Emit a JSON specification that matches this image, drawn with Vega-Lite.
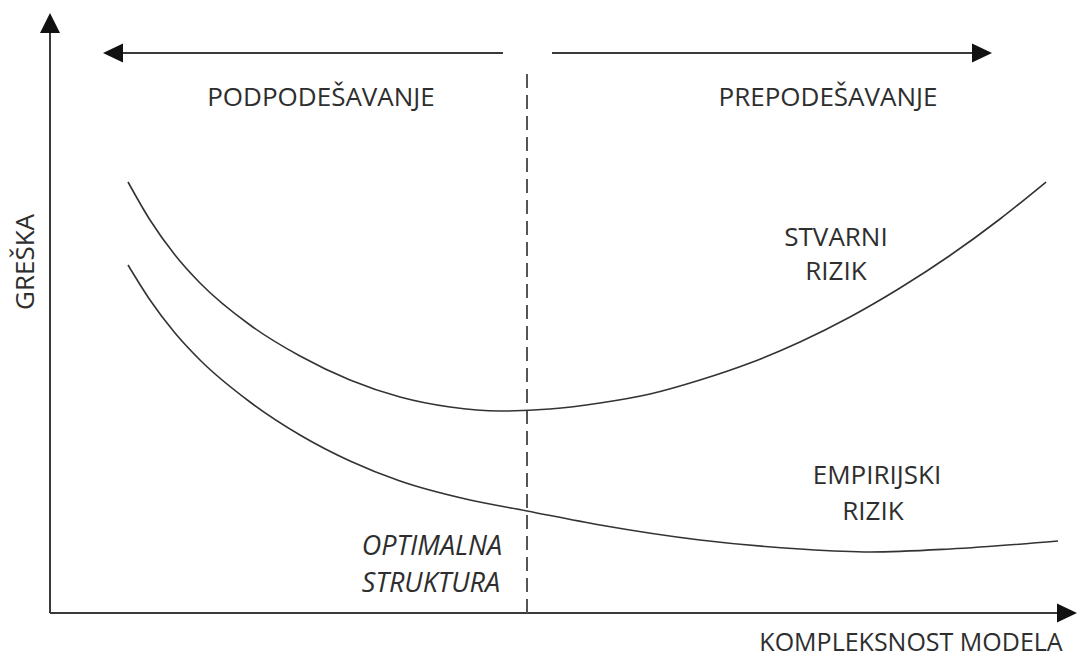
{
  "$schema": "https://vega.github.io/schema/vega-lite/v6.json",
  "width": 1080,
  "height": 661,
  "autosize": {"type": "fit", "contains": "padding"},
  "padding": 0,
  "background": "white",
  "config": {"view": {"stroke": null}},
  "datasets": {
    "axes": [
      {"x": 0, "y": 0, "x2": 0, "y2": 58.0},
      {"x": 0, "y": 0, "x2": 100.7, "y2": 0},
      {"x": 7.3, "y": 56.0, "x2": 45.3, "y2": 56.0},
      {"x": 50.2, "y": 56.0, "x2": 92.2, "y2": 56.0}
    ],
    "optimum": [
      {"x": 47.7, "y": 0, "x2": 47.7, "y2": 54.0}
    ],
    "heads": [
      {"x": 0, "y": 59.0, "dir": "up"},
      {"x": 101.7, "y": 0, "dir": "right"},
      {"x": 6.3, "y": 56.0, "dir": "left"},
      {"x": 93.2, "y": 56.0, "dir": "right"}
    ],
    "curves": [
      {"series": "stvarni", "x": 7.8, "y": 43.1},
      {"series": "stvarni", "x": 10.0, "y": 39.3},
      {"series": "stvarni", "x": 12.5, "y": 35.8},
      {"series": "stvarni", "x": 15.0, "y": 33.0},
      {"series": "stvarni", "x": 20.0, "y": 28.8},
      {"series": "stvarni", "x": 25.0, "y": 25.7},
      {"series": "stvarni", "x": 30.0, "y": 23.3},
      {"series": "stvarni", "x": 35.0, "y": 21.6},
      {"series": "stvarni", "x": 40.0, "y": 20.6},
      {"series": "stvarni", "x": 45.0, "y": 20.2},
      {"series": "stvarni", "x": 50.0, "y": 20.4},
      {"series": "stvarni", "x": 55.0, "y": 21.0},
      {"series": "stvarni", "x": 60.0, "y": 21.9},
      {"series": "stvarni", "x": 65.0, "y": 23.3},
      {"series": "stvarni", "x": 70.0, "y": 25.0},
      {"series": "stvarni", "x": 75.0, "y": 27.1},
      {"series": "stvarni", "x": 80.0, "y": 29.6},
      {"series": "stvarni", "x": 85.0, "y": 32.5},
      {"series": "stvarni", "x": 90.0, "y": 35.75},
      {"series": "stvarni", "x": 95.0, "y": 39.4},
      {"series": "stvarni", "x": 99.6, "y": 43.1},
      {"series": "empirijski", "x": 7.8, "y": 34.8},
      {"series": "empirijski", "x": 10.0, "y": 31.3},
      {"series": "empirijski", "x": 12.5, "y": 28.0},
      {"series": "empirijski", "x": 15.0, "y": 25.3},
      {"series": "empirijski", "x": 20.0, "y": 21.1},
      {"series": "empirijski", "x": 25.0, "y": 17.8},
      {"series": "empirijski", "x": 30.0, "y": 15.2},
      {"series": "empirijski", "x": 35.0, "y": 13.2},
      {"series": "empirijski", "x": 42.0, "y": 11.3},
      {"series": "empirijski", "x": 47.7, "y": 10.2},
      {"series": "empirijski", "x": 55.0, "y": 8.8},
      {"series": "empirijski", "x": 65.0, "y": 7.3},
      {"series": "empirijski", "x": 75.0, "y": 6.4},
      {"series": "empirijski", "x": 82.0, "y": 6.1},
      {"series": "empirijski", "x": 90.0, "y": 6.4},
      {"series": "empirijski", "x": 100.8, "y": 7.2}
    ],
    "labels": [
      {"x": 27.1, "y": 51.5, "label": "PODPODEŠAVANJE"},
      {"x": 77.8, "y": 51.5, "label": "PREPODEŠAVANJE"},
      {"x": 78.6, "y": 37.5, "label": "STVARNI"},
      {"x": 78.6, "y": 34.1, "label": "RIZIK"},
      {"x": 82.7, "y": 13.7, "label": "EMPIRIJSKI"},
      {"x": 82.3, "y": 10.1, "label": "RIZIK"}
    ],
    "xlabel": [
      {"x": 86.1, "y": -3.0, "label": "KOMPLEKSNOST MODELA"}
    ],
    "italic": [
      {"x": 38.2, "y": 6.6, "label": "OPTIMALNA"},
      {"x": 38.1, "y": 2.9, "label": "STRUKTURA"}
    ],
    "ylabel": [
      {"x": -2.4, "y": 35.1, "label": "GREŠKA"}
    ]
  },
  "layer": [
    {
      "data": {"name": "axes"},
      "mark": {"type": "rule", "stroke": "#3a3a3a", "strokeWidth": 2},
      "encoding": {
        "x": {"field": "x", "type": "quantitative", "scale": {"domain": [-5, 103], "nice": false, "zero": false}, "axis": null},
        "y": {"field": "y", "type": "quantitative", "scale": {"domain": [-4.8, 61.3], "nice": false, "zero": false}, "axis": null},
        "x2": {"field": "x2"},
        "y2": {"field": "y2"}
      }
    },
    {
      "data": {"name": "optimum"},
      "mark": {"type": "rule", "stroke": "#555555", "strokeWidth": 2, "strokeDash": [14, 7]},
      "encoding": {
        "x": {"field": "x", "type": "quantitative"},
        "y": {"field": "y", "type": "quantitative"},
        "x2": {"field": "x2"},
        "y2": {"field": "y2"}
      }
    },
    {
      "data": {"name": "heads"},
      "mark": {"type": "point", "filled": true, "color": "#111111", "opacity": 1, "size": 400, "strokeWidth": 0},
      "encoding": {
        "x": {"field": "x", "type": "quantitative"},
        "y": {"field": "y", "type": "quantitative"},
        "shape": {
          "field": "dir",
          "type": "nominal",
          "legend": null,
          "scale": {"domain": ["up", "left", "right"], "range": ["M0,-1L1,1L-1,1Z", "M-1,0L1,-0.95L1,0.95Z", "M1,0L-1,-0.95L-1,0.95Z"]}
        }
      }
    },
    {
      "data": {"name": "curves"},
      "mark": {"type": "line", "interpolate": "monotone", "strokeWidth": 1.6, "color": "#333333"},
      "encoding": {
        "x": {"field": "x", "type": "quantitative"},
        "y": {"field": "y", "type": "quantitative"},
        "detail": {"field": "series", "type": "nominal"}
      }
    },
    {
      "data": {"name": "labels"},
      "mark": {"type": "text", "font": "Open Sans", "fontSize": 26, "color": "#2e2e2e", "align": "center", "baseline": "middle"},
      "encoding": {
        "x": {"field": "x", "type": "quantitative"},
        "y": {"field": "y", "type": "quantitative"},
        "text": {"field": "label", "type": "nominal"}
      }
    },
    {
      "data": {"name": "xlabel"},
      "mark": {"type": "text", "font": "Open Sans", "fontSize": 25, "color": "#2e2e2e", "align": "center", "baseline": "middle"},
      "encoding": {
        "x": {"field": "x", "type": "quantitative"},
        "y": {"field": "y", "type": "quantitative"},
        "text": {"field": "label", "type": "nominal"}
      }
    },
    {
      "data": {"name": "italic"},
      "mark": {"type": "text", "font": "Open Sans", "fontSize": 27, "fontStyle": "italic", "color": "#2e2e2e", "align": "center", "baseline": "middle"},
      "encoding": {
        "x": {"field": "x", "type": "quantitative"},
        "y": {"field": "y", "type": "quantitative"},
        "text": {"field": "label", "type": "nominal"}
      }
    },
    {
      "data": {"name": "ylabel"},
      "mark": {"type": "text", "font": "Open Sans", "fontSize": 26, "angle": 270, "color": "#2e2e2e", "align": "center", "baseline": "middle"},
      "encoding": {
        "x": {"field": "x", "type": "quantitative"},
        "y": {"field": "y", "type": "quantitative"},
        "text": {"field": "label", "type": "nominal"}
      }
    }
  ]
}
